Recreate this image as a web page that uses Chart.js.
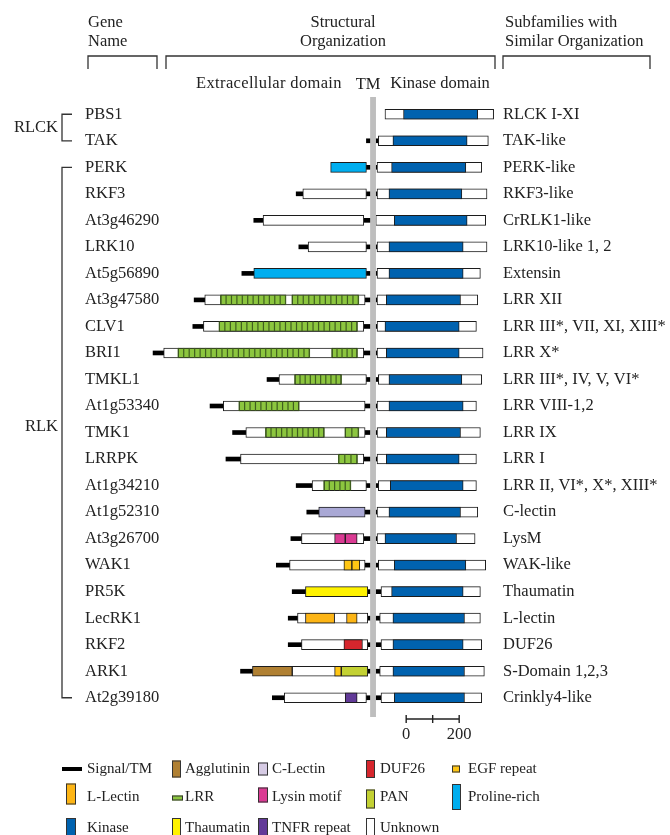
<!DOCTYPE html>
<html>
<head>
<meta charset="utf-8">
<title>RLK structural organization</title>
<script src="https://cdn.jsdelivr.net/npm/chart.js@4.4.1/dist/chart.umd.min.js"></script>
<style>
  html, body { margin: 0; padding: 0; background: #fff; }
  #chart { display: block; }
</style>
</head>
<body>
<canvas id="chart" width="670" height="835"></canvas>
<script>
// ── Rows ──
var genes = ['PBS1', 'TAK', 'PERK', 'RKF3', 'At3g46290', 'LRK10', 'At5g56890', 'At3g47580',
  'CLV1', 'BRI1', 'TMKL1', 'At1g53340', 'TMK1', 'LRRPK', 'At1g34210', 'At1g52310',
  'At3g26700', 'WAK1', 'PR5K', 'LecRK1', 'RKF2', 'ARK1', 'At2g39180'];

var subfamilies = ['RLCK I-XI', 'TAK-like', 'PERK-like', 'RKF3-like', 'CrRLK1-like', 'LRK10-like 1, 2',
  'Extensin', 'LRR XII', 'LRR III*, VII, XI, XIII*', 'LRR X*', 'LRR III*, IV, V, VI*', 'LRR VIII-1,2',
  'LRR IX', 'LRR I', 'LRR II, VI*, X*, XIII*', 'C-lectin', 'LysM', 'WAK-like', 'Thaumatin',
  'L-lectin', 'DUF26', 'S-Domain 1,2,3', 'Crinkly4-like'];

var groups = [
  { name: 'RLCK', first: 0, last: 1 },
  { name: 'RLK', first: 2, last: 22 }
];

// ── Segments, in residues from the TM centre (negative = extracellular) ──
var signalPeptide = [null, null, null, [-290, -265], [-450, -415], [-280, -245], [-495, -450],
  [-675, -635], [-680, -640], [-830, -790], [-400, -355], [-615, -565], [-530, -480], [-555, -500],
  [-290, -230], [-250, -205], [-310, -270], [-365, -315], [-305, -255], [-320, -285], [-320, -270],
  [-500, -455], [-380, -335]];

var tmSpan = [null, [-25, 20], [-25, 15], [-25, 15], [-35, 10], [-25, 15], [-25, 15], [-30, 15],
  [-35, 15], [-35, 15], [-25, 20], [-30, 15], [-30, 15], [-35, 15], [-25, 20], [-30, 15], [-35, 15],
  [-30, 20], [-20, 30], [-20, 25], [-20, 30], [-20, 25], [-25, 30]];

var outerUnknown = [null, null, null, [-265, -25], [-415, -35], [-245, -25], null, [-635, -30],
  [-640, -35], [-790, -35], [-355, -25], [-565, -30], [-480, -30], [-500, -35], [-230, -25], null,
  [-270, -35], [-315, -30], null, [-285, -20], [-270, -20], [-305, -20], [-335, -25]];

var innerUnknown = [[45, 455], [20, 435], [15, 410], [15, 430], [10, 425], [15, 430], [15, 405],
  [15, 395], [15, 390], [15, 415], [20, 410], [15, 390], [15, 405], [15, 390], [20, 390], [15, 395],
  [15, 385], [20, 425], [30, 405], [25, 405], [30, 410], [25, 420], [30, 410]];

var kinaseDomain = [[115, 395], [75, 355], [70, 350], [60, 335], [80, 355], [60, 340], [60, 340],
  [50, 330], [45, 325], [50, 325], [60, 335], [60, 340], [50, 330], [50, 325], [65, 340], [60, 330],
  [45, 315], [80, 350], [70, 340], [75, 345], [75, 340], [75, 345], [80, 345]];

// sparse extracellular domains, keyed by gene
var lrrFirst = { At3g47580: [-575, -330], CLV1: [-580, -60], BRI1: [-735, -240], TMKL1: [-295, -120],
  At1g53340: [-505, -280], TMK1: [-405, -185], LRRPK: [-130, -60], At1g34210: [-185, -85] };
var lrrSecond = { At3g47580: [-305, -55], BRI1: [-155, -60], TMK1: [-105, -55] };
var prolineRich = { PERK: [-160, -25], At5g56890: [-450, -25] };
var cLectin = { At1g52310: [-205, -30] };
var lysinFirst = { At3g26700: [-145, -105] };
var lysinSecond = { At3g26700: [-105, -60] };
var egfFirst = { WAK1: [-110, -80], ARK1: [-145, -120] };
var egfSecond = { WAK1: [-80, -50] };
var thaumatin = { PR5K: [-255, -20] };
var lLectinFirst = { LecRK1: [-255, -145] };
var lLectinSecond = { LecRK1: [-100, -60] };
var duf26 = { RKF2: [-110, -40] };
var agglutinin = { ARK1: [-455, -305] };
var pan = { ARK1: [-120, -20] };
var tnfr = { At2g39180: [-105, -60] };

var scaleBarStart = 125;   // residues, where the "0" tick sits
var scaleBarLength = 200;

// ── Styles ──
var SERIF = "'Liberation Serif', 'Times New Roman', serif";
var INK = '#222222';
var EDGE = '#1c1c1c';
var C_KINASE = '#0062AF';
var C_PROLINE = '#00AEEF';
var C_LRR = '#8CC63F';
var C_LRR_EDGE = '#3F5E1F';
var C_CLECTIN = '#A9A8D5';
var C_LYSIN = '#DA3B93';
var C_EGF = '#FFC614';
var C_THAUMATIN = '#FFF200';
var C_LLECTIN = '#FDB515';
var C_DUF26 = '#D6262D';
var C_AGGLUTININ = '#B08032';
var C_PAN = '#C3D133';
var C_TNFR = '#623A98';
var C_TM = '#BEBEBE';
var TM_BAND = [-11, 11];
var REPEAT_PX = 5.45;

function byGene(entries) {
  return genes.map(function (g) { return entries[g] || null; });
}

function segment(label, data, color, opts) {
  opts = opts || {};
  return {
    label: label,
    data: data,
    backgroundColor: color,
    borderColor: opts.line ? color : EDGE,
    borderWidth: opts.line ? 0 : 1,
    borderSkipped: false,
    barThickness: opts.line ? 4 : 10,
    grouped: false,
    clip: false,
    order: opts.order || 0,
    repeats: !!opts.repeats
  };
}

var datasets = [
  segment('Kinase', kinaseDomain, C_KINASE),
  segment('Proline-rich', byGene(prolineRich), C_PROLINE),
  segment('LRR', byGene(lrrFirst), C_LRR, { repeats: true }),
  segment('LRR 2', byGene(lrrSecond), C_LRR, { repeats: true }),
  segment('C-Lectin', byGene(cLectin), C_CLECTIN),
  segment('Lysin motif', byGene(lysinFirst), C_LYSIN),
  segment('Lysin motif 2', byGene(lysinSecond), C_LYSIN),
  segment('EGF repeat', byGene(egfFirst), C_EGF),
  segment('EGF repeat 2', byGene(egfSecond), C_EGF),
  segment('Thaumatin', byGene(thaumatin), C_THAUMATIN),
  segment('L-Lectin', byGene(lLectinFirst), C_LLECTIN),
  segment('L-Lectin 2', byGene(lLectinSecond), C_LLECTIN),
  segment('DUF26', byGene(duf26), C_DUF26),
  segment('Agglutinin', byGene(agglutinin), C_AGGLUTININ),
  segment('PAN', byGene(pan), C_PAN),
  segment('TNFR repeat', byGene(tnfr), C_TNFR),
  segment('Unknown (extracellular)', outerUnknown, '#ffffff', { order: 1 }),
  segment('Unknown (intracellular)', innerUnknown, '#ffffff', { order: 1 }),
  segment('Signal', signalPeptide, '#000000', { line: true, order: 2 }),
  segment('TM', tmSpan, '#000000', { line: true, order: 2 })
];

// ── Legend layout ──
var legendRows = [769, 797, 828];
var legendItems = [
  { label: 'Signal/TM', row: 0, sx: 62, tx: 87, line: true },
  { label: 'Agglutinin', row: 0, sx: 172, tx: 185, color: C_AGGLUTININ, w: 9, h: 17 },
  { label: 'C-Lectin', row: 0, sx: 258, tx: 272, color: '#D6CBE4', w: 10, h: 13 },
  { label: 'DUF26', row: 0, sx: 366, tx: 380, color: C_DUF26, w: 9, h: 18 },
  { label: 'EGF repeat', row: 0, sx: 452, tx: 468, color: C_EGF, w: 8, h: 7 },
  { label: 'L-Lectin', row: 1, sx: 66, tx: 87, color: C_LLECTIN, w: 10, h: 21, dy: -3 },
  { label: 'LRR', row: 1, sx: 172, tx: 185, color: C_LRR, w: 11, h: 5, dy: 1 },
  { label: 'Lysin motif', row: 1, sx: 258, tx: 272, color: C_LYSIN, w: 10, h: 15, dy: -2 },
  { label: 'PAN', row: 1, sx: 366, tx: 380, color: C_PAN, w: 9, h: 19, dy: 2 },
  { label: 'Proline-rich', row: 1, sx: 452, tx: 468, color: C_PROLINE, w: 9, h: 26 },
  { label: 'Kinase', row: 2, sx: 66, tx: 87, color: C_KINASE, w: 10, h: 20 },
  { label: 'Thaumatin', row: 2, sx: 172, tx: 185, color: C_THAUMATIN, w: 9, h: 20 },
  { label: 'TNFR repeat', row: 2, sx: 258, tx: 272, color: C_TNFR, w: 10, h: 20 },
  { label: 'Unknown', row: 2, sx: 366, tx: 380, color: '#ffffff', w: 9, h: 20 }
];

function say(ctx, str, x, y, align) {
  ctx.textAlign = align || 'left';
  ctx.fillText(str, x, y);
}

function bracketDown(ctx, x0, x1, top, bottom) {
  ctx.beginPath();
  ctx.moveTo(x0, bottom);
  ctx.lineTo(x0, top);
  ctx.lineTo(x1, top);
  ctx.lineTo(x1, bottom);
  ctx.stroke();
}

// ── Decorations drawn around the bars ──
var decorPlugin = {
  id: 'decor',
  afterDatasetsDraw: function (chart) {
    var ctx = chart.ctx;
    var xs = chart.scales.x;
    ctx.save();

    // LRR repeat dividers
    chart.data.datasets.forEach(function (ds, i) {
      if (!ds.repeats) return;
      chart.getDatasetMeta(i).data.forEach(function (bar, j) {
        if (!ds.data[j]) return;
        var p = bar.getProps(['x', 'base', 'y', 'height'], true);
        var left = Math.min(p.x, p.base), right = Math.max(p.x, p.base);
        var n = Math.max(1, Math.round((right - left) / REPEAT_PX));
        var step = (right - left) / n;
        ctx.fillStyle = C_LRR_EDGE;
        for (var k = 0; k <= n; k++) {
          ctx.fillRect(left + k * step - 0.6, p.y - p.height / 2, 1.2, p.height);
        }
      });
    });

    // TM band
    var b0 = xs.getPixelForValue(TM_BAND[0]), b1 = xs.getPixelForValue(TM_BAND[1]);
    ctx.fillStyle = C_TM;
    ctx.fillRect(b0, 97, b1 - b0, 620);

    // scale bar
    var s0 = xs.getPixelForValue(scaleBarStart);
    var s1 = xs.getPixelForValue(scaleBarStart + scaleBarLength);
    var sm = xs.getPixelForValue(scaleBarStart + scaleBarLength / 2);
    var sy = 719;
    ctx.strokeStyle = INK;
    ctx.lineWidth = 1.4;
    ctx.beginPath();
    ctx.moveTo(s0, sy); ctx.lineTo(s1, sy);
    [s0, sm, s1].forEach(function (x) { ctx.moveTo(x, sy - 4); ctx.lineTo(x, sy + 4); });
    ctx.stroke();
    ctx.fillStyle = INK;
    ctx.font = '16.5px ' + SERIF;
    ctx.textBaseline = 'middle';
    say(ctx, '0', s0, 735, 'center');
    say(ctx, String(scaleBarLength), s1, 735, 'center');
    ctx.restore();
  },

  afterDraw: function (chart) {
    var ctx = chart.ctx;
    var ys = chart.scales.y;
    ctx.save();
    ctx.fillStyle = INK;
    ctx.strokeStyle = '#333333';
    ctx.lineWidth = 1.3;
    ctx.font = '16.5px ' + SERIF;
    ctx.textBaseline = 'middle';

    // column headers
    say(ctx, 'Gene', 88, 23);
    say(ctx, 'Name', 88, 42);
    say(ctx, 'Structural', 343, 23, 'center');
    say(ctx, 'Organization', 343, 42, 'center');
    say(ctx, 'Subfamilies with', 505, 23);
    say(ctx, 'Similar Organization', 505, 42);
    bracketDown(ctx, 88, 157, 56, 69);
    bracketDown(ctx, 166, 495, 56, 69);
    bracketDown(ctx, 503, 650, 56, 69);
    ctx.letterSpacing = '0.35px';
    say(ctx, 'Extracellular domain', 269, 84, 'center');
    ctx.letterSpacing = '0px';
    say(ctx, 'TM', 368, 85, 'center');
    say(ctx, 'Kinase domain', 440, 84, 'center');

    // group brackets
    groups.forEach(function (g) {
      var y0 = ys.getPixelForValue(g.first), y1 = ys.getPixelForValue(g.last);
      ctx.beginPath();
      ctx.moveTo(72, y0); ctx.lineTo(62, y0); ctx.lineTo(62, y1); ctx.lineTo(72, y1);
      ctx.stroke();
      var mid = g.last - g.first > 2 ? 427 : (y0 + y1) / 2;
      say(ctx, g.name, 58, mid, 'right');
    });

    // legend
    ctx.font = '15px ' + SERIF;
    legendItems.forEach(function (it) {
      var y = legendRows[it.row];
      if (it.line) {
        ctx.fillStyle = '#000000';
        ctx.fillRect(it.sx, y - 2, 20, 4);
      } else {
        var top = y + (it.dy || 0) - it.h / 2;
        ctx.fillStyle = it.color;
        ctx.fillRect(it.sx, top, it.w, it.h);
        ctx.strokeStyle = '#333333';
        ctx.lineWidth = 1;
        ctx.strokeRect(it.sx + 0.5, top + 0.5, it.w - 1, it.h - 1);
      }
      ctx.fillStyle = INK;
      say(ctx, it.label, it.tx, y);
    });
    ctx.restore();
  }
};

// ── Chart ──
Chart.defaults.font.family = SERIF;
Chart.defaults.color = INK;

new Chart(document.getElementById('chart'), {
  type: 'bar',
  data: { labels: genes, datasets: datasets },
  options: {
    indexAxis: 'y',
    responsive: false,
    animation: false,
    events: [],
    layout: { padding: { top: 101, bottom: 124, left: 85, right: 0 } },
    plugins: { legend: { display: false }, tooltip: { enabled: false } },
    scales: {
      // chart area runs 165..500 px; bars further left draw unclipped
      x: { type: 'linear', min: -785, max: 479, display: false },
      y: {
        type: 'category',
        labels: genes,
        offset: true,
        position: 'left',
        grid: { display: false, drawTicks: false },
        border: { display: false },
        ticks: { crossAlign: 'far', padding: 0, autoSkip: false, color: INK, font: { size: 16.5 } },
        afterFit: function (axis) { axis.width = 80; }
      },
      y2: {
        type: 'category',
        labels: subfamilies,
        offset: true,
        position: 'right',
        grid: { display: false, drawTicks: false },
        border: { display: false },
        ticks: { padding: 3, autoSkip: false, color: INK, font: { size: 16.5 } },
        afterFit: function (axis) { axis.width = 170; }
      }
    }
  },
  plugins: [decorPlugin]
});
</script>
</body>
</html>
